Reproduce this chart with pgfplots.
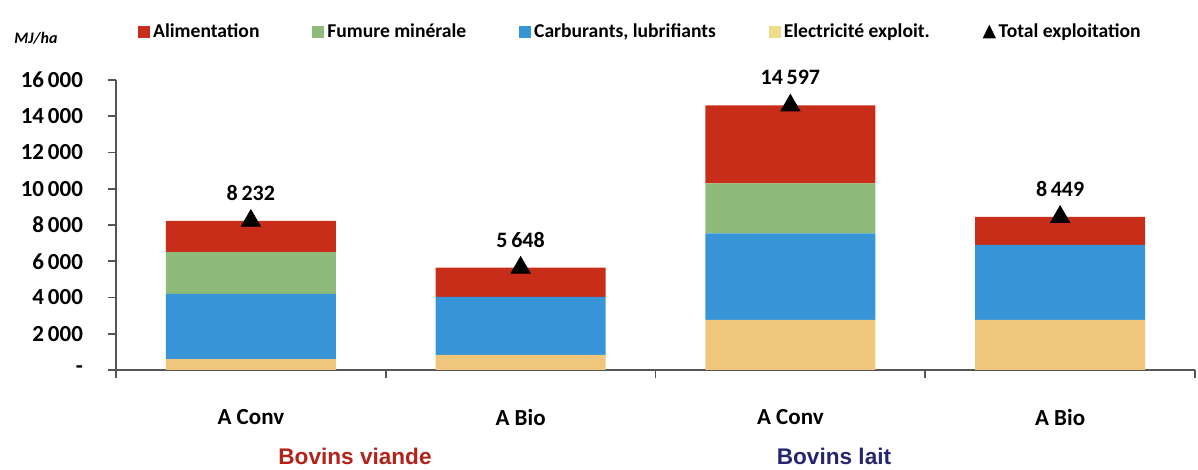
\documentclass[border=0pt]{standalone}
\usepackage{fontspec}
\setmainfont{Carlito}
\newfontfamily\arialf{Liberation Sans}
\usepackage{pgfplots}
\pgfplotsset{compat=1.18}
\definecolor{alim}{RGB}{200,45,25}
\definecolor{fum}{RGB}{143,187,122}
\definecolor{carb}{RGB}{55,148,214}
\definecolor{elec}{RGB}{240,198,125}
\definecolor{elecleg}{RGB}{238,222,140}
\definecolor{viande}{RGB}{178,35,25}
\definecolor{lait}{RGB}{35,40,110}
\definecolor{axgray}{RGB}{85,85,85}

\pgfplotsset{common/.style={width=539.5pt,height=145pt,scale only axis,
  xmin=-0.5,xmax=3.5,ymin=0,ymax=16000}}

\begin{document}
\begin{tikzpicture}
% stacked bars
\begin{axis}[common,
  ybar stacked, bar width=85pt,
  axis lines*=left,
  axis line style={draw=axgray,line width=0.9pt},
  scaled y ticks=false,
  xtick={0,1,2,3},
  xticklabels={A Conv,A Bio,A Conv,A Bio},
  minor xtick={-0.5,0.5,1.5,2.5,3.5},
  ytick={0,2000,...,16000},
  yticklabels={{-\hspace{9pt}},2\,000,4\,000,6\,000,8\,000,10\,000,12\,000,14\,000,16\,000},
  tick align=outside,
  major tick length=4pt, minor tick length=4pt,
  tick style={axgray,line width=0.8pt},
  major x tick style={draw=none},
  yticklabel style={font=\fontsize{11.5}{12}\selectfont\bfseries,xshift=-9pt},
  xticklabel style={font=\fontsize{11.5}{12}\selectfont\bfseries,yshift=-12pt},
]
\addplot[fill=elec,draw=none] coordinates {(0,600) (1,830) (2,2760) (3,2760)};
\addplot[fill=carb,draw=none] coordinates {(0,3600) (1,3200) (2,4780) (3,4140)};
\addplot[fill=fum,draw=none] coordinates {(0,2300) (1,0) (2,2760) (3,0)};
\addplot[fill=alim,draw=none] coordinates {(0,1732) (1,1618) (2,4297) (3,1549)};
\end{axis}
% totals and legend
\begin{axis}[common, hide axis, clip=false,
  legend columns=5,
  legend style={at={(0.0204,1.1655)},anchor=west,draw=none,fill=none,
    inner sep=0pt,font=\fontsize{9.8}{11}\selectfont\bfseries,
    nodes={inner sep=1.5pt},
    /tikz/every even column/.append style={column sep=25pt}},
]
\addlegendimage{legend image code/.code={\fill[alim] (0pt,-2.75pt) rectangle (5.5pt,2.75pt);}}
\addlegendentry{Alimentation}
\addlegendimage{legend image code/.code={\fill[fum] (0pt,-2.75pt) rectangle (5.5pt,2.75pt);}}
\addlegendentry{Fumure minérale}
\addlegendimage{legend image code/.code={\fill[carb] (0pt,-2.75pt) rectangle (5.5pt,2.75pt);}}
\addlegendentry{Carburants, lubrifiants}
\addlegendimage{legend image code/.code={\fill[elecleg] (0pt,-2.75pt) rectangle (5.5pt,2.75pt);}}
\addlegendentry{Electricité exploit.}
\addplot[only marks, mark=triangle*, mark size=5.5pt, black,
  point meta=explicit symbolic, nodes near coords,
  every node near coord/.append style={anchor=center,yshift=14pt,
    font=\fontsize{11}{12}\selectfont\bfseries},
  legend image code/.code={\fill[black] (0pt,-3pt) -- (6pt,-3pt) -- (3pt,3.2pt) -- cycle;}]
  coordinates {(0,8232) [8\,232] (1,5648) [5\,648] (2,14597) [14\,597] (3,8449) [8\,449]};
\addlegendentry{Total exploitation}
\end{axis}
\node[font=\bfseries\itshape\fontsize{8}{9}\selectfont] at (-40pt,166pt) {MJ/ha};
\node[font=\arialf\bfseries\fontsize{11.3}{13}\selectfont,text=viande] at (119.5pt,-43pt) {Bovins viande};
\node[font=\arialf\bfseries\fontsize{11.3}{13}\selectfont,text=lait] at (359pt,-43pt) {Bovins lait};
\pgfresetboundingbox
\path (-58pt,-50pt) rectangle (541pt,185pt);
\end{tikzpicture}
\end{document}
